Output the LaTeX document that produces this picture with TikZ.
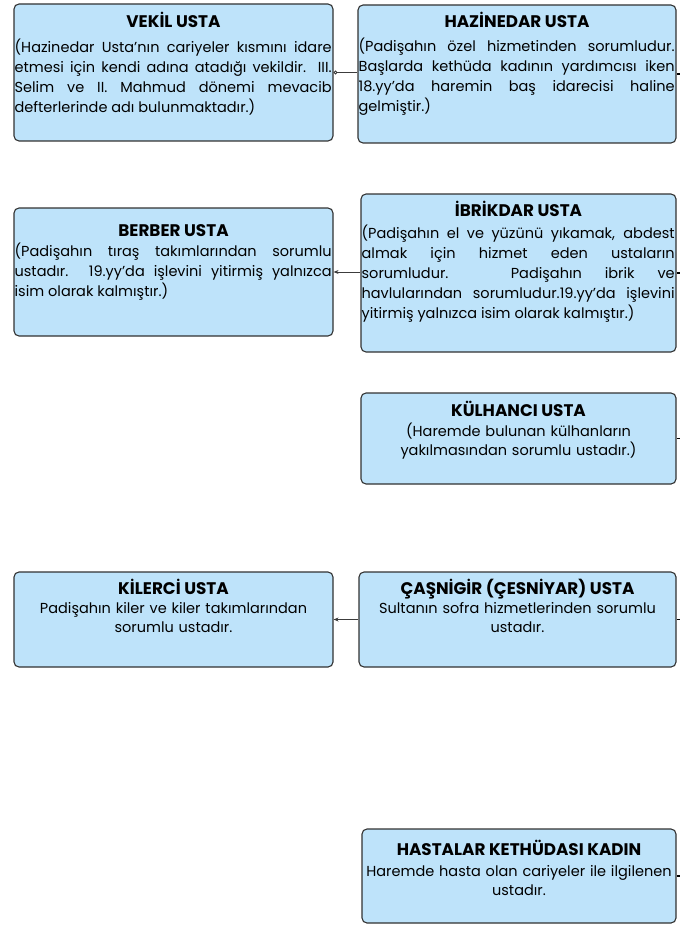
\documentclass[tikz,border=0pt]{standalone}
\usepackage{fontspec}
\setmainfont{Poppins}
\usetikzlibrary{arrows.meta,calc}
\definecolor{boxfill}{RGB}{190,227,250}
\definecolor{boxline}{RGB}{50,50,50}
\definecolor{conncol}{RGB}{60,60,60}
\begin{document}
\begin{tikzpicture}[x=1pt,y=-1pt,
  box/.style={draw=boxline, fill=boxfill, line width=1.1pt, rounded corners=5pt, inner sep=0pt},
  ttl/.style={font=\fontsize{16.8}{19}\selectfont\bfseries, anchor=base, inner sep=0pt},
  bodyj/.style={font=\fontsize{14.5}{20}\selectfont, align=justify, anchor=base west, inner sep=0pt},
  bodyc/.style={font=\fontsize{14.5}{19.5}\selectfont, align=center, anchor=base, inner sep=0pt},
  conn/.style={draw=conncol, line width=0.9pt},
  tip/.style={-{Stealth[length=5pt,width=4pt]}},
  stub/.style={draw=black, line width=1.3pt}]
\useasboundingbox (0,0) rectangle (680,928);
\coordinate (rim) at (680,0);

% boxes
\node[box, minimum width=319pt, minimum height=137pt] (vekil) at (173.5,72.5) {};
\node[box, minimum width=318pt, minimum height=138pt] (hazinedar) at (517,74) {};
\node[box, minimum width=319pt, minimum height=128pt] (berber) at (173.5,272) {};
\node[box, minimum width=315pt, minimum height=158pt] (ibrikdar) at (518.5,273) {};
\node[box, minimum width=315pt, minimum height=91pt] (kulhanci) at (518.5,438.5) {};
\node[box, minimum width=319pt, minimum height=95pt] (kilerci) at (173.5,619.5) {};
\node[box, minimum width=317pt, minimum height=95pt] (casnigir) at (517.5,619.5) {};
\node[box, minimum width=314pt, minimum height=94pt] (hastalar) at (519,876) {};

% texts
\node[ttl] (vekilT) at ($(vekil.north)+(0,24)$) {VEKİL USTA};
\node[bodyj, text width=317pt] (vekilB) at ($(vekil.north west)+(1,49)$)
 {(Hazinedar Usta'nın cariyeler kısmını idare\linebreak etmesi için kendi adına atadığı vekildir. III.\linebreak Selim ve II. Mahmud dönemi mevacib\linebreak defterlerinde adı bulunmaktadır.)};

\node[ttl] (hazinedarT) at ($(hazinedar.north)+(0,23)$) {HAZİNEDAR USTA};
\node[bodyj, text width=316pt] (hazinedarB) at ($(hazinedar.north west)+(1,47)$)
 {(Padişahın özel hizmetinden sorumludur.\linebreak Başlarda kethüda kadının yardımcısı iken\linebreak 18.yy’da haremin baş idarecisi haline\linebreak gelmiştir.)};

\node[ttl] (berberT) at ($(berber.north)+(0,29)$) {BERBER USTA};
\node[bodyj, text width=317pt] (berberB) at ($(berber.north west)+(1,49)$)
 {(Padişahın tıraş takımlarından sorumlu\linebreak ustadır. 19.yy’da işlevini yitirmiş yalnızca\linebreak isim olarak kalmıştır.)};

\node[ttl] (ibrikdarT) at ($(ibrikdar.north)+(0,23)$) {İBRİKDAR USTA};
\node[bodyj, text width=313pt] (ibrikdarB) at ($(ibrikdar.north west)+(1,45)$)
 {(Padişahın el ve yüzünü yıkamak, abdest\linebreak almak için hizmet eden ustaların\linebreak sorumludur. Padişahın ibrik ve\linebreak havlularından sorumludur.19.yy’da işlevini\linebreak yitirmiş yalnızca isim olarak kalmıştır.)};

\node[ttl] (kulhanciT) at ($(kulhanci.north)+(0,24)$) {KÜLHANCI USTA};
\node[bodyc, text width=313pt] (kulhanciB) at ($(kulhanci.north)+(0,44)$)
 {(Haremde bulunan külhanların\\ yakılmasından sorumlu ustadır.)};

\node[ttl] (kilerciT) at ($(kilerci.north)+(0,23)$) {KİLERCİ USTA};
\node[bodyc, text width=317pt] (kilerciB) at ($(kilerci.north)+(0,42)$)
 {Padişahın kiler ve kiler takımlarından\\ sorumlu ustadır.};

\node[ttl] (casnigirT) at ($(casnigir.north)+(0,23)$) {ÇAŞNİGİR (ÇESNİYAR) USTA};
\node[bodyc, text width=315pt] (casnigirB) at ($(casnigir.north)+(0,42)$)
 {Sultanın sofra hizmetlerinden sorumlu\\ ustadır.};

\node[ttl] (hastalarT) at ($(hastalar.north)+(0,27)$) {HASTALAR KETHÜDASI KADIN};
\node[bodyc, text width=312pt] (hastalarB) at ($(hastalar.north)+(0,48)$)
 {Haremde hasta olan cariyeler ile ilgilenen\\ ustadır.};

% connectors
\draw[conn, {Circle[open,length=4pt,width=4pt]}-] (vekil.east) -- (vekil.east -| hazinedar.west);
\draw[conn, tip] (ibrikdar.west |- berber.east) -- (berber.east);
\draw[conn, tip] (casnigir.west) -- (kilerci.east);

% stubs going off the right edge
\draw[stub] (hazinedar.east) -- (hazinedar.east -| rim);
\draw[stub] (ibrikdar.east) -- (ibrikdar.east -| rim);
\draw[stub] (kulhanci.east) -- (kulhanci.east -| rim);
\draw[stub] (casnigir.east) -- (casnigir.east -| rim);
\draw[stub] (hastalar.east) -- (hastalar.east -| rim);
\end{tikzpicture}
\end{document}
